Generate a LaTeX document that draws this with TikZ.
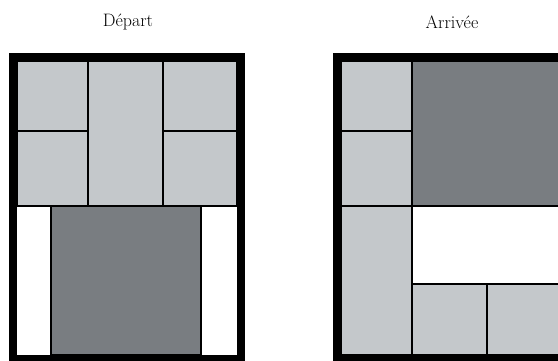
\documentclass[tikz,border=0pt]{standalone}
\usepackage{tikz}
\usetikzlibrary{patterns}

\definecolor{pieceGray}{RGB}{196,200,203}
\definecolor{bigGray}{RGB}{121,125,129}

\begin{document}
\begin{tikzpicture}[x=1pt,y=-1pt,
  piece/.style={draw=black,line width=1.4pt,fill=pieceGray},
  bigpiece/.style={draw=black,line width=1.4pt,fill=bigGray},
  frame/.style={draw=black,line width=8pt},
  title/.style={font=\fontsize{18}{21}\selectfont,inner sep=0pt}]
\useasboundingbox (0,0) rectangle (558,361);
\clip (0,0) rectangle (558,361);
% titles
\node[title] (depart) at (128,22) {Départ};
\node[title] (arrivee) at (452,22) {Arrivée};
% starting position
\draw[piece] (17,61) rectangle (88,131);
\draw[piece] (17,131) rectangle (88,206);
\draw[piece] (88,61) rectangle (163,206);
\draw[piece] (163,61) rectangle (237,131);
\draw[piece] (163,131) rectangle (237,206);
\draw[bigpiece] (51,206) rectangle (201,355);
\draw[frame] (13,57) rectangle (241,359);
% final position
\draw[piece] (341,61) rectangle (412,131);
\draw[piece] (341,131) rectangle (412,206);
\draw[piece] (341,206) rectangle (412,355);
\draw[bigpiece] (412,61) rectangle (561,206);
\draw[piece] (412,284) rectangle (487,355);
\draw[piece] (487,284) rectangle (561,355);
\draw[frame] (337,57) rectangle (565,359);
\end{tikzpicture}
\end{document}
